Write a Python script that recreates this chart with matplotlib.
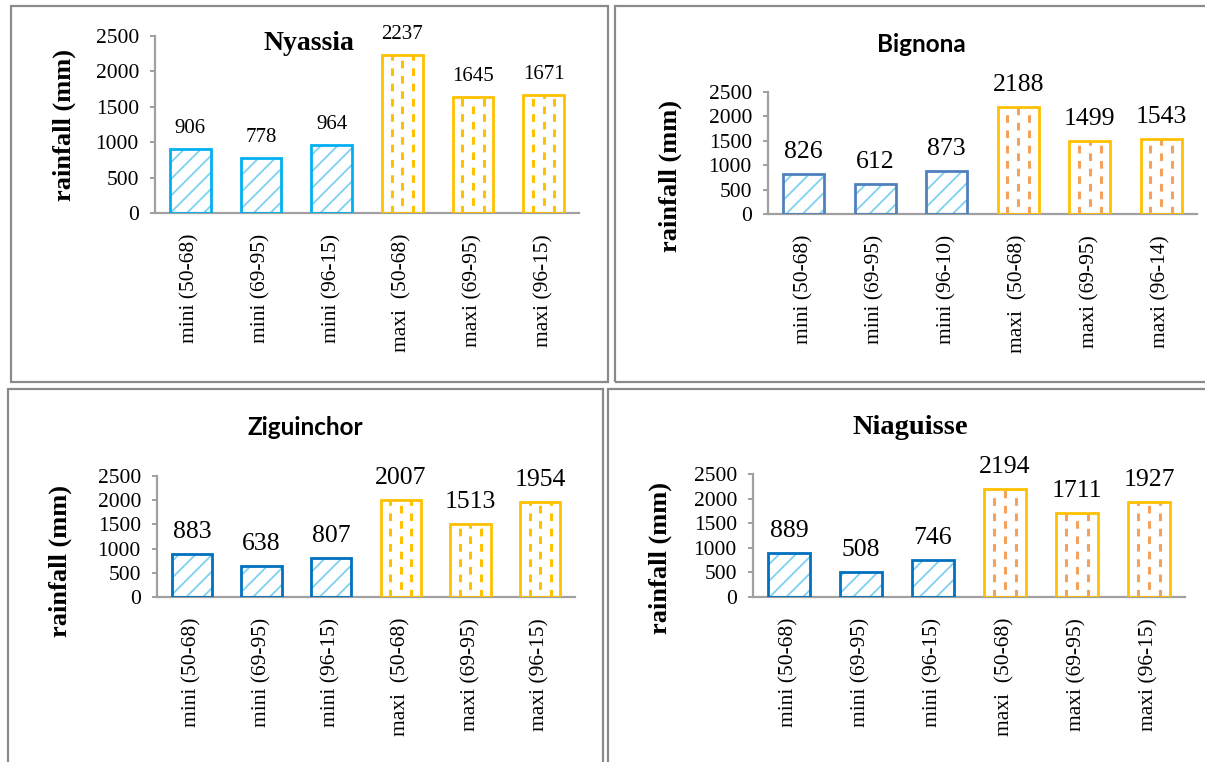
import matplotlib
matplotlib.use("Agg")
import matplotlib.pyplot as plt
from matplotlib.patches import Rectangle

# ---------------- data ----------------
labels_std = ["mini (50-68)", "mini (69-95)", "mini (96-15)",
              "maxi  (50-68)", "maxi (69-95)", "maxi (96-15)"]
labels_bignona = ["mini (50-68)", "mini (69-95)", "mini (96-10)",
                  "maxi  (50-68)", "maxi (69-95)", "maxi (96-14)"]

nyassia = [906, 778, 964, 2237, 1645, 1671]
bignona = [826, 612, 873, 2188, 1499, 1543]
ziguinchor = [883, 638, 807, 2007, 1513, 1954]
niaguisse = [889, 508, 746, 2194, 1711, 1927]

yticks = [0, 500, 1000, 1500, 2000, 2500]

W, H = 1205, 762
SERIF = "Liberation Serif"
SANS = "Lato"

plt.rcParams["lines.scale_dashes"] = False
plt.rcParams["hatch.linewidth"] = 1.3

fig = plt.figure(figsize=(W / 100, H / 100), dpi=100)
fig.patch.set_facecolor("white")


def fx(px):
    return px / W


def fy(py):
    return 1 - py / H


# panel frames (pixels: x0, y0, x1, y1)
frames = [(11, 6, 608, 382), (615, 6, 1212, 382),
          (8, 389, 603, 775), (608, 389, 1212, 775)]
for x0, y0, x1, y1 in frames:
    fig.patches.append(Rectangle((fx(x0), fy(y1)), fx(x1 - x0), (y1 - y0) / H,
                                 transform=fig.transFigure, fill=False,
                                 edgecolor="#8a8a8a", lw=1.6, zorder=0))

panels = [
    dict(vals=nyassia, labels=labels_std, title="Nyassia", tfont=SERIF, tsize=20,
         box=(155, 36, 579, 213), tpos=(309, 44), ylab=(64, 125),
         mini_edge="#00B0F0", dash_col="#FFC000", vsize=15),
    dict(vals=bignona, labels=labels_bignona, title="Bignona", tfont=SANS, tsize=17.5,
         box=(768, 92, 1197, 214), tpos=(921, 44), ylab=(670, 176),
         mini_edge="#4F81BD", dash_col="#F4A15C", vsize=18.5),
    dict(vals=ziguinchor, labels=labels_std, title="Ziguinchor", tfont=SANS, tsize=17.5,
         box=(157, 476, 575, 597), tpos=(305, 427), ylab=(60, 561),
         mini_edge="#0070C0", dash_col="#FFC000", vsize=18.5),
    dict(vals=niaguisse, labels=labels_std, title="Niaguisse", tfont=SERIF, tsize=20.5,
         box=(753, 474, 1185, 597), tpos=(910, 427), ylab=(660, 558),
         mini_edge="#0070C0", dash_col="#F4A15C", vsize=18.5),
]

BW = 0.58
for p in panels:
    x0, y0, x1, y1 = p["box"]
    ax = fig.add_axes([fx(x0), fy(y1), (x1 - x0) / W, (y1 - y0) / H])
    ax.set_facecolor("none")
    vals = p["vals"]
    xs = list(range(len(vals)))
    mini_x, mini_v = xs[:3], vals[:3]
    maxi_x, maxi_v = xs[3:], vals[3:]

    # mini bars: hatched light-blue diagonals
    ax.bar(mini_x, mini_v, BW, color="white", edgecolor="#7FD0F2", hatch="//",
           linewidth=0, zorder=2)
    ax.bar(mini_x, mini_v, BW, fill=False, edgecolor=p["mini_edge"],
           linewidth=2.0, zorder=4)

    # maxi bars: white with vertical dashed pattern
    ax.bar(maxi_x, maxi_v, BW, color="white", linewidth=0, zorder=2)
    for xi, v in zip(maxi_x, maxi_v):
        for k, ph in ((-1, 0), (0, 5.5), (1, 0)):
            ax.vlines(xi + k * BW * 0.26, 0, v, colors=p["dash_col"],
                      linewidth=2.2, linestyles=[(ph, (5.5, 5.5))], zorder=3)
    ax.bar(maxi_x, maxi_v, BW, fill=False, edgecolor="#FFC000",
           linewidth=2.0, zorder=4)

    for xi, v in zip(xs, vals):
        ax.annotate(str(v), (xi, v), xytext=(0, 11.5), textcoords="offset points",
                    ha="center", va="baseline", fontfamily=SERIF,
                    fontsize=p["vsize"], color="black", annotation_clip=False)

    ax.set_xlim(-0.5, len(vals) - 0.5)
    ax.set_ylim(0, 2500)
    ax.set_yticks(yticks)
    ax.set_yticklabels([str(t) for t in yticks], fontfamily=SERIF, fontsize=15.5)
    ax.set_xticks(xs)
    ax.set_xticklabels(p["labels"], rotation=90, fontfamily=SERIF, fontsize=15.5)
    ax.tick_params(axis="x", length=0, pad=15)
    ax.tick_params(axis="y", length=3.6, width=1.4, color="#A0A0A0", pad=8)
    for s in ("top", "right"):
        ax.spines[s].set_visible(False)
    for s in ("left", "bottom"):
        ax.spines[s].set_color("#A0A0A0")
        ax.spines[s].set_linewidth(1.6)

    fig.text(fx(p["tpos"][0]), fy(p["tpos"][1]), p["title"], ha="center",
             va="center", fontfamily=p["tfont"], fontweight="bold",
             fontsize=p["tsize"])
    fig.text(fx(p["ylab"][0]), fy(p["ylab"][1]), "rainfall (mm)", rotation=90,
             ha="center", va="center", fontfamily=SERIF, fontweight="bold",
             fontsize=19)

fig.savefig("out.png", dpi=100, facecolor="white")
